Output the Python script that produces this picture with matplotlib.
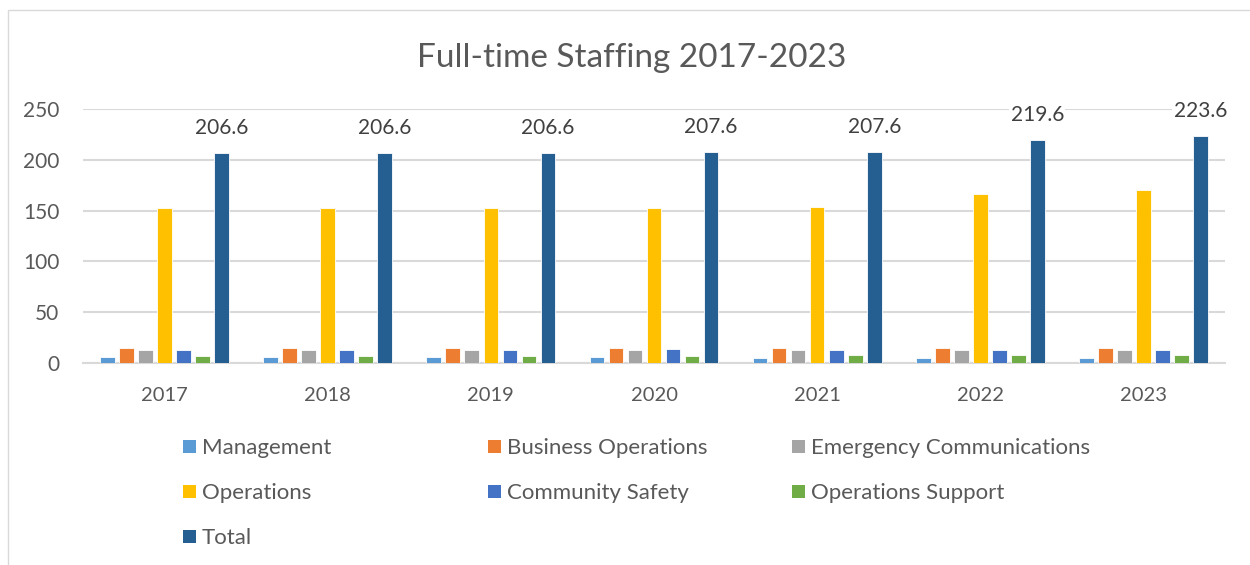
import matplotlib.pyplot as plt
import matplotlib.patches as mpatches
import numpy as np

# Full-time staffing by division, 2017-2023
years = ['2017', '2018', '2019', '2020', '2021', '2022', '2023']
management = [6, 6, 6, 6, 5, 5, 5]
business_ops = [15, 15, 15, 15, 15, 15, 15]
emergency_comms = [13, 13, 13, 13, 13, 13, 13]
operations = [153, 153, 153, 153, 154, 166, 170]
community_safety = [13, 13, 13, 14, 13, 13, 13]
operations_support = [6.6, 6.6, 6.6, 6.6, 7.6, 7.6, 7.6]
total = [206.6, 206.6, 206.6, 207.6, 207.6, 219.6, 223.6]

series = [
    ('Management', management, '#5B9BD5'),
    ('Business Operations', business_ops, '#ED7D31'),
    ('Emergency Communications', emergency_comms, '#A5A5A5'),
    ('Operations', operations, '#FFC000'),
    ('Community Safety', community_safety, '#4472C4'),
    ('Operations Support', operations_support, '#70AD47'),
    ('Total', total, '#255E91'),
]

plt.rcParams['font.family'] = ['Lato', 'DejaVu Sans']
text_color = '#595959'
grid_color = '#D9D9D9'

fig = plt.figure(figsize=(12.5, 5.65), dpi=100)
ax = fig.add_axes([0.0664, 0.3575, 0.9136, 0.4495])

x = np.arange(len(years))
step = 0.1166
width = 0.09
for i, (name, vals, color) in enumerate(series):
    offs = (i - 3) * step
    ax.bar(x + offs, vals, width, color=color, edgecolor='white', linewidth=0.6, zorder=3)

# value labels on the Total bars
for xi, v in zip(x, total):
    ax.annotate(f'{v}', (xi + 3 * step, v), xytext=(0, 11), textcoords='offset points',
                ha='center', va='bottom', fontsize=15, color='#404040', zorder=5,
                bbox=dict(facecolor='white', edgecolor='none', pad=1))

ax.set_xlim(-0.5, len(years) - 0.5)
ax.set_ylim(0, 250)
ax.set_yticks([0, 50, 100, 150, 200, 250])
ax.set_xticks(x)
ax.set_xticklabels(years)
ax.yaxis.grid(True, color=grid_color, linewidth=1.5, zorder=0)
ax.set_axisbelow(True)
for s in ['top', 'right', 'left']:
    ax.spines[s].set_visible(False)
ax.spines['bottom'].set_color(grid_color)
ax.spines['bottom'].set_linewidth(1.5)
ax.tick_params(axis='both', length=0, labelcolor=text_color)
ax.tick_params(axis='y', pad=17, labelsize=15)
ax.tick_params(axis='x', pad=17, labelsize=14.5)

fig.text(0.505, 1 - 67 / 565, 'Full-time Staffing 2017-2023', ha='center', va='baseline',
         fontsize=24, color=text_color)

# legend laid out in three equal columns
col_x = [183, 488, 792]
row_y = [446, 491, 536]
for i, (name, vals, color) in enumerate(series):
    cx = col_x[i % 3]
    cy = row_y[i // 3]
    fig.patches.append(mpatches.Rectangle((cx / 1250, 1 - (cy + 6.5) / 565), 13 / 1250, 13 / 565,
                                          transform=fig.transFigure, facecolor=color,
                                          edgecolor='none'))
    fig.text((cx + 19) / 1250, 1 - (cy + 2) / 565, name, ha='left', va='center',
             fontsize=16, color=text_color)

# chart border
fig.patches.append(mpatches.Rectangle((8 / 1250, -0.01), 1.02, 1 - 10 / 565 + 0.01,
                                      transform=fig.transFigure, facecolor='none',
                                      edgecolor='#D9D9D9', linewidth=1))

fig.savefig('out.png', dpi=100)
